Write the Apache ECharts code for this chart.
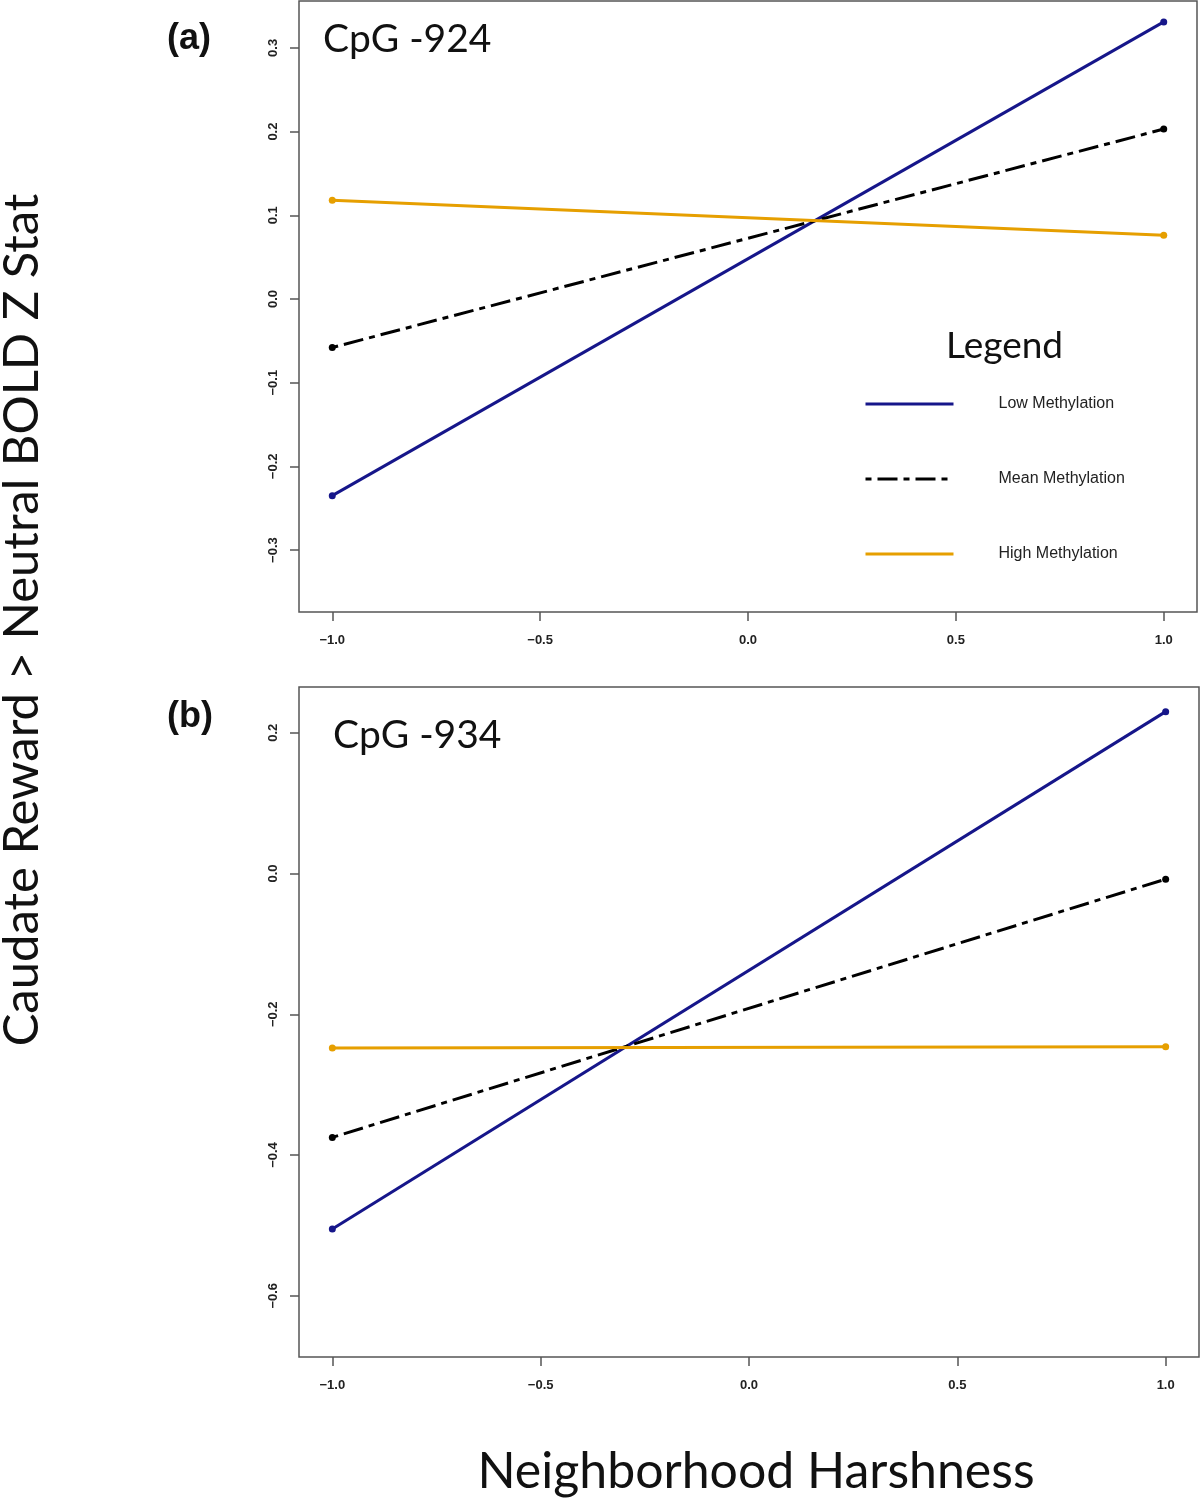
<!DOCTYPE html>
<html>
<head>
<meta charset="utf-8">
<script src="https://cdn.jsdelivr.net/npm/echarts@6/dist/echarts.min.js"></script>
<style>
  html, body { margin: 0; padding: 0; background: #fff; }
  #container { width: 1202px; height: 1500px; }
</style>
</head>
<body>
<div id="container"></div>
<script>
    // x values (neighborhood harshness, -1 SD / +1 SD)
    var harshness = [-1, 1];

    // panel (a) CpG -924
    var lowA = [-0.235, 0.331];
    var meanA = [-0.058, 0.203];
    var highA = [0.118, 0.076];

    // panel (b) CpG -934
    var lowB = [-0.505, 0.230];
    var meanB = [-0.375, -0.008];
    var highB = [-0.248, -0.246];

    var xTicks = [-1.0, -0.5, 0.0, 0.5, 1.0];
    var yTicksA = [-0.3, -0.2, -0.1, 0.0, 0.1, 0.2, 0.3];
    var yTicksB = [-0.6, -0.4, -0.2, 0.0, 0.2];

    var seriesNames = ['Low Methylation', 'Mean Methylation', 'High Methylation'];
    var colors = ['#16168a', '#000000', '#e69f00'];
    var dash = ['solid', [6, 6, 20, 6], 'solid'];

    var fmt = function (v) {
        return Number(v).toFixed(1).replace('-', '\u2212');
    };

    function pairs(ys) {
        return harshness.map(function (x, i) { return [x, ys[i]]; });
    }

    function xAxis(gi) {
        return {
            type: 'value', gridIndex: gi, min: -1.08, max: 1.08,
            axisLine: { show: false, onZero: false },
            splitLine: { show: false },
            axisTick: { show: true, length: 9, customValues: xTicks, lineStyle: { color: '#555', width: 1.5 } },
            axisLabel: {
                customValues: xTicks, formatter: fmt, margin: 22,
                fontFamily: 'Liberation Sans', fontWeight: 'bold', fontSize: 13, color: '#222'
            }
        };
    }

    function yAxis(gi, min, max, ticks) {
        return {
            type: 'value', gridIndex: gi, min: min, max: max,
            axisLine: { show: false, onZero: false },
            splitLine: { show: false },
            axisTick: { show: true, length: 9, customValues: ticks, lineStyle: { color: '#555', width: 1.5 } },
            axisLabel: {
                customValues: ticks, formatter: fmt, rotate: 90, margin: 19,
                fontFamily: 'Liberation Sans', fontWeight: 'bold', fontSize: 13, color: '#222'
            }
        };
    }

    var panels = [[lowA, meanA, highA], [lowB, meanB, highB]];
    var series = [];
    panels.forEach(function (p, gi) {
        p.forEach(function (ys, k) {
            series.push({
                name: seriesNames[k],
                type: 'line',
                xAxisIndex: gi, yAxisIndex: gi,
                data: pairs(ys),
                symbol: 'circle', symbolSize: 7,
                lineStyle: { color: colors[k], width: 3, type: dash[k] },
                itemStyle: { color: colors[k] },
                silent: true
            });
        });
    });

    var myChart = echarts.init(document.getElementById('container'), null, { renderer: 'canvas' });
    myChart.setOption({
        animation: false,
        backgroundColor: '#fff',
        grid: [
            { left: 299, top: 1, width: 898, height: 611, show: true, borderColor: '#555', borderWidth: 1.5 },
            { left: 299, top: 687, width: 900, height: 670, show: true, borderColor: '#555', borderWidth: 1.5 }
        ],
        xAxis: [xAxis(0), xAxis(1)],
        yAxis: [yAxis(0, -0.374, 0.356, yTicksA), yAxis(1, -0.687, 0.265, yTicksB)],
        title: [
            { text: '(a)', left: 162, top: 16, textStyle: { fontFamily: 'Liberation Sans', fontWeight: 'bold', fontSize: 36, color: '#111' } },
            { text: '(b)', left: 162, top: 694, textStyle: { fontFamily: 'Liberation Sans', fontWeight: 'bold', fontSize: 36, color: '#111' } },
            { text: 'CpG -924', left: 318, top: 15, textStyle: { fontFamily: 'Lato', fontWeight: 'normal', fontSize: 39, color: '#111' } },
            { text: 'CpG -934', left: 328, top: 711, textStyle: { fontFamily: 'Lato', fontWeight: 'normal', fontSize: 39, color: '#111' } },
            { text: 'Legend', left: 941, top: 323, textStyle: { fontFamily: 'Lato', fontWeight: 'normal', fontSize: 37, color: '#111' } }
        ],
        legend: {
            orient: 'vertical',
            left: 859, top: 391,
            data: seriesNames,
            itemWidth: 88, itemHeight: 14, itemGap: 59,
            selectedMode: false,
            itemStyle: { opacity: 0 },
            lineStyle: { width: 3 },
            textStyle: { fontFamily: 'Liberation Sans', fontSize: 16, color: '#222', padding: [0, 0, 0, 40] }
        },
        graphic: [
            {
                type: 'text', x: 756, y: 1472,
                style: {
                    text: 'Neighborhood Harshness',
                    font: '50px Lato', fill: '#111',
                    textAlign: 'center', textVerticalAlign: 'middle'
                }
            },
            {
                type: 'text', x: 22, y: 620, rotation: Math.PI / 2,
                style: {
                    text: 'Caudate Reward > Neutral BOLD Z Stat',
                    font: '49px Lato', fill: '#111',
                    textAlign: 'center', textVerticalAlign: 'middle'
                }
            }
        ],
        series: series
    });
</script>
</body>
</html>
